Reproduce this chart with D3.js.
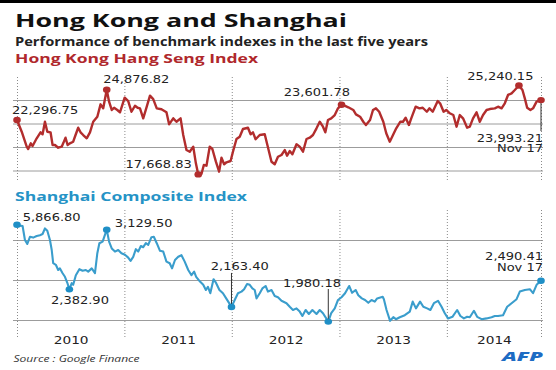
<!DOCTYPE html>
<html><head><meta charset="utf-8">
<script src="https://cdn.jsdelivr.net/npm/d3@7"></script>
<style>html,body{margin:0;padding:0;background:#fff;} svg{display:block;}</style>
</head><body><svg id="c" width="556" height="370"></svg>
<script>
// ---------- DATA ----------
const hkDates = ["2010-01-01","2010-01-17","2010-02-03","2010-02-08","2010-02-17","2010-02-23","2010-03-09","2010-03-22","2010-03-29","2010-04-06","2010-04-14","2010-04-25","2010-05-02","2010-05-10","2010-05-21","2010-06-02","2010-06-07","2010-06-15","2010-06-22","2010-06-30","2010-07-11","2010-07-19","2010-07-28","2010-08-05","2010-08-14","2010-08-26","2010-09-06","2010-09-17","2010-10-01","2010-10-12","2010-10-21","2010-11-02","2010-11-10","2010-11-19","2010-11-27","2010-12-08","2010-12-17","2011-01-02","2011-01-14","2011-01-25","2011-02-06","2011-02-15","2011-02-23","2011-03-06","2011-03-18","2011-03-29","2011-04-09","2011-04-21","2011-05-07","2011-05-24","2011-06-02","2011-06-16","2011-06-27","2011-07-11","2011-07-20","2011-07-31","2011-08-11","2011-08-23","2011-09-01","2011-09-09","2011-09-20","2011-09-28","2011-10-07","2011-10-18","2011-10-27","2011-11-08","2011-11-19","2011-11-27","2011-12-06","2011-12-14","2011-12-28","2012-01-05","2012-01-17","2012-01-28","2012-02-08","2012-02-25","2012-03-05","2012-03-13","2012-03-22","2012-04-05","2012-04-22","2012-05-01","2012-05-15","2012-05-26","2012-06-06","2012-06-18","2012-06-29","2012-07-07","2012-07-16","2012-07-25","2012-08-08","2012-08-19","2012-08-30","2012-09-11","2012-09-22","2012-10-03","2012-10-15","2012-10-26","2012-11-06","2012-11-14","2012-11-23","2012-12-04","2012-12-16","2012-12-27","2013-01-08","2013-01-20","2013-01-31","2013-02-17","2013-02-26","2013-03-12","2013-03-23","2013-04-01","2013-04-15","2013-04-25","2013-05-05","2013-05-16","2013-05-30","2013-06-09","2013-06-21","2013-07-02","2013-07-13","2013-07-27","2013-08-05","2013-08-14","2013-08-25","2013-09-02","2013-09-17","2013-09-30","2013-10-11","2013-10-25","2013-11-03","2013-11-14","2013-12-01","2013-12-09","2013-12-21","2013-12-30","2014-01-11","2014-01-23","2014-02-03","2014-02-14","2014-02-25","2014-03-11","2014-03-20","2014-03-31","2014-04-12","2014-04-23","2014-05-04","2014-05-16","2014-05-27","2014-06-13","2014-06-24","2014-07-06","2014-07-17","2014-07-28","2014-08-09","2014-08-20","2014-09-03","2014-09-15","2014-09-23","2014-10-01","2014-10-12","2014-10-21","2014-11-02","2014-11-17"];
const hkValues = [22296.75,21300,20030,19830,20310,20080,20740,21250,21080,22150,21300,21250,20170,20170,19940,20030,20310,20790,20170,20310,20450,21020,21640,21250,21020,20740,21250,22150,22580,23630,23290,24876.82,23860,23150,23340,23150,22950,24200,23910,23000,23510,23340,23290,22440,23430,24370,24080,23290,23210,22950,21930,22440,22150,22440,21020,19740,19600,20030,18610,17668.83,17700,18470,18410,20030,19830,18750,17900,19090,18530,18700,18810,19600,20680,20880,21530,21640,21080,21250,20660,21020,21080,20170,18750,18530,19170,19320,19740,19260,19660,19380,20230,20030,19600,20680,20790,21020,21590,22150,21730,21250,22300,22440,22720,23290,23601.78,23500,23380,23150,22780,22580,22150,21870,22300,23150,23290,23000,22150,21170,20450,21020,21590,22150,22150,22490,21870,22440,23430,23290,23340,23000,23290,23000,23910,23720,23000,23150,22870,22720,21730,22720,22440,21640,21730,22440,22950,22150,22720,23150,23230,23290,23430,23290,23720,24430,24570,24850,25240.15,24850,24140,23340,23150,23290,23860,23993.21];

const shDates = ["2010-01-01","2010-01-11","2010-01-20","2010-01-28","2010-02-05","2010-02-14","2010-02-25","2010-03-09","2010-03-20","2010-03-29","2010-04-06","2010-04-14","2010-04-23","2010-04-29","2010-05-04","2010-05-13","2010-05-21","2010-05-27","2010-06-05","2010-06-13","2010-06-21","2010-06-28","2010-07-06","2010-07-11","2010-07-20","2010-08-01","2010-08-12","2010-08-23","2010-08-31","2010-09-12","2010-09-23","2010-10-01","2010-10-08","2010-10-19","2010-11-02","2010-11-10","2010-11-19","2010-11-30","2010-12-11","2010-12-22","2011-01-03","2011-01-14","2011-01-22","2011-01-31","2011-02-09","2011-02-17","2011-02-26","2011-03-06","2011-03-15","2011-03-23","2011-04-03","2011-04-11","2011-04-21","2011-05-02","2011-05-13","2011-05-24","2011-06-04","2011-06-12","2011-06-22","2011-07-03","2011-07-14","2011-07-25","2011-08-06","2011-08-17","2011-08-26","2011-09-02","2011-09-15","2011-09-26","2011-10-05","2011-10-12","2011-10-20","2011-10-31","2011-11-09","2011-11-20","2011-12-02","2011-12-13","2011-12-31","2012-01-11","2012-01-22","2012-02-03","2012-02-12","2012-02-22","2012-03-02","2012-03-11","2012-03-19","2012-03-25","2012-04-05","2012-04-14","2012-04-25","2012-05-03","2012-05-15","2012-05-26","2012-06-06","2012-06-18","2012-07-05","2012-07-16","2012-07-27","2012-08-08","2012-08-19","2012-08-28","2012-09-08","2012-09-19","2012-10-01","2012-10-15","2012-10-26","2012-11-06","2012-11-24","2012-12-04","2012-12-16","2012-12-27","2013-01-08","2013-01-20","2013-02-03","2013-02-13","2013-02-25","2013-03-06","2013-03-18","2013-03-29","2013-04-09","2013-04-20","2013-05-01","2013-05-09","2013-05-28","2013-06-01","2013-06-10","2013-06-22","2013-07-03","2013-07-12","2013-07-25","2013-08-11","2013-08-28","2013-09-07","2013-09-18","2013-10-02","2013-10-13","2013-10-26","2013-11-06","2013-11-18","2013-12-02","2013-12-14","2013-12-25","2014-01-05","2014-01-20","2014-02-05","2014-02-16","2014-02-28","2014-03-11","2014-03-20","2014-04-03","2014-04-14","2014-04-29","2014-05-16","2014-06-02","2014-06-13","2014-06-24","2014-07-11","2014-07-25","2014-08-09","2014-08-26","2014-09-06","2014-09-23","2014-10-10","2014-10-21","2014-11-02","2014-11-17"];
const shValues = [3190,3180,3175,3000,2950,3040,3030,3050,3060,3075,3145,3115,3000,2875,2710,2690,2625,2645,2585,2540,2465,2382.90,2460,2440,2560,2635,2615,2625,2605,2645,2585,2835,2960,2980,3129.50,2980,2895,2855,2875,2835,2815,2780,2740,2790,2885,2855,2925,2910,2960,2940,3035,3040,2960,2865,2855,2730,2710,2645,2750,2790,2810,2730,2625,2560,2605,2540,2480,2440,2375,2415,2335,2510,2460,2375,2335,2270,2163.40,2250,2335,2355,2385,2450,2440,2395,2375,2270,2335,2395,2425,2355,2375,2300,2285,2240,2210,2165,2125,2145,2105,2050,2125,2075,2125,2075,2125,2085,1980.18,2085,2145,2250,2285,2335,2425,2340,2375,2310,2270,2250,2215,2250,2230,2270,2290,2260,2125,1990,2035,2010,2035,2060,2105,2230,2145,2230,2165,2145,2125,2210,2240,2165,2085,2020,2040,2125,2050,2020,2040,2035,2115,2040,2010,2020,2035,2050,2050,2060,2165,2210,2260,2355,2375,2385,2335,2440,2490.41];

const hkGrid = [18000, 20000, 22000, 24000];
const shGrid = [2000, 2500, 3000];
const yearBounds = ["2010-01-01","2011-01-01","2012-01-01","2013-01-01","2014-01-01","2014-11-17"];
const yearLabels = ["2010","2011","2012","2013","2014"];

const hkNoteDates  = ["2010-01-01","2010-11-02","2011-09-09","2013-01-08","2014-09-03","2014-11-17"];
const hkNoteLabels = ["22,296.75","24,876.82","17,668.83","23,601.78","25,240.15","23,993.21"];
const shNoteDates  = ["2010-01-01","2010-11-02","2010-06-28","2011-12-31","2012-11-24","2014-11-17"];
const shNoteLabels = ["5,866.80","3,129.50","2,382.90","2,163.40","1,980.18","2,490.41"];
const endDateLabel = "Nov 17";

const titleText = "Hong Kong and Shanghai";
const subtitleText = "Performance of benchmark indexes in the last five years";
const hkTitle = "Hong Kong Hang Seng Index";
const shTitle = "Shanghai Composite Index";
const sourceText = "Source : Google Finance";
const logoText = "AFP";

// ---------- DRAW ----------
const parse = d3.timeParse("%Y-%m-%d");
const svg = d3.select("#c");
const SX = 1.3; // horizontal text stretch of the original artwork

function stretch(sel, k) {
  sel.each(function() {
    const w = this.getComputedTextLength();
    d3.select(this).attr("textLength", w * k).attr("lengthAdjust", "spacingAndGlyphs");
  });
  return sel;
}
function fitWidth(sel, w) {
  return sel.attr("textLength", w).attr("lengthAdjust", "spacingAndGlyphs");
}

svg.append("rect").attr("x",0).attr("y",0).attr("width",556).attr("height",3).attr("fill","#000");

const x = d3.scaleTime().domain([parse("2010-01-01"), parse("2014-11-17")]).range([17, 541]);
const yHK = d3.scaleLinear().domain([18000, 24000]).range([170.5, 100]);
const ySH = d3.scaleLinear().domain([2000, 3000]).range([320, 240]);

// headers
const hdr = (txt, xx, yy, size, weight, color, w, style) => fitWidth(
  svg.append("text").attr("x", xx).attr("y", yy).text(txt)
    .attr("font-family", "'Open Sans', 'DejaVu Sans', sans-serif")
    .attr("font-size", size).attr("font-weight", weight)
    .attr("font-style", style || "normal").attr("fill", color), w);
hdr(titleText, 15, 27, 18.5, 700, "#111", 332);
hdr(subtitleText, 15, 45.5, 12, 700, "#222", 413);
hdr(hkTitle, 15, 62.7, 13, 700, "#b0282c", 243);
hdr(shTitle, 15, 201, 13, 700, "#2593c6", 232);
hdr(sourceText, 13.5, 361.5, 9, 400, "#333", 126, "italic");
hdr(logoText, 502, 361, 12, 800, "#1d6cc4", 41, "italic");

function panel(yScale, grid, y0, y1, dates, values, color, dotColor, lw, noteDates, noteLabels, layout) {
  // horizontal gridlines
  const gy = svg.append("g").attr("transform", "translate(13,0)")
    .call(d3.axisRight(yScale).tickValues(grid).tickSize(530).tickFormat(""));
  gy.select(".domain").remove();
  gy.selectAll("line").attr("stroke", "#9c9c9c").attr("stroke-width", 1);
  // vertical dotted year lines
  const gx = svg.append("g").attr("transform", `translate(0,${y0})`)
    .call(d3.axisBottom(x).tickValues(yearBounds.map(parse)).tickSize(y1 - y0).tickFormat(""));
  gx.select(".domain").remove();
  gx.selectAll("line").attr("stroke", "#8a8a8a").attr("stroke-width", 1).attr("stroke-dasharray", "1,2");

  const data = dates.map((d, i) => ({date: parse(d), value: values[i]}));
  const line = d3.line().x(d => x(d.date)).y(d => yScale(d.value));
  svg.append("path").datum(data).attr("d", line).attr("fill", "none")
    .attr("stroke", color).attr("stroke-width", lw).attr("stroke-linejoin", "round").attr("stroke-linecap", "round");

  noteDates.forEach((nd, i) => {
    const p = data.find(d => d3.timeFormat("%Y-%m-%d")(d.date) === nd);
    const px = x(p.date), py = yScale(p.value);
    const L = layout[i];
    if (L.lead) {
      svg.append("line").attr("x1", px).attr("x2", px).attr("y1", py).attr("y2", py + L.lead)
        .attr("stroke", "#333").attr("stroke-width", 1);
    }
    svg.append("ellipse").attr("cx", px).attr("cy", py).attr("rx", 3.8).attr("ry", 3.2).attr("fill", dotColor);
    const t = svg.append("text").attr("x", px + L.dx).attr("y", py + L.dy)
      .attr("text-anchor", L.anchor).attr("font-family", "'DejaVu Sans', sans-serif")
      .attr("font-size", 10).attr("fill", "#222").text(noteLabels[i]);
    stretch(t, SX);
    if (L.date !== undefined) {
      const t2 = svg.append("text").attr("x", px + L.dx).attr("y", py + L.date)
        .attr("text-anchor", L.anchor).attr("font-family", "'DejaVu Sans', sans-serif")
        .attr("font-size", 10).attr("fill", "#222").text(endDateLabel);
      stretch(t2, SX);
    }
  });
}

panel(yHK, hkGrid, 77, 182, hkDates, hkValues, "#b22d2d", "#b22d2d", 2.4, hkNoteDates, hkNoteLabels, [
  {dx: -5, dy: -6.5, anchor: "start"},
  {dx: -3.5, dy: -6.5, anchor: "start"},
  {dx: -6.5, dy: -6.5, anchor: "end"},
  {dx: 8.5, dy: -8.5, anchor: "end"},
  {dx: 14.5, dy: -5.5, anchor: "end"},
  {dx: 2, dy: 41.5, anchor: "end", lead: 31, date: 51.5}
]);
panel(ySH, shGrid, 210, 337, shDates, shValues, "#3a9dcc", "#1f8fc6", 2.1, shNoteDates, shNoteLabels, [
  {dx: 5.7, dy: -4, anchor: "start"},
  {dx: 8, dy: -3, anchor: "start"},
  {dx: 10.6, dy: 15, anchor: "middle"},
  {dx: 8.3, dy: -37, anchor: "middle", lead: -34},
  {dx: 12.7, dy: -35, anchor: "end", lead: -32.6},
  {dx: 2, dy: -20.8, anchor: "end", date: -9.8}
]);

// year labels
const mids = yearLabels.map((l, i) => new Date((parse(yearBounds[i]).getTime() + parse(yearBounds[i + 1]).getTime()) / 2));
const gyr = svg.append("g").attr("transform", "translate(0,344)")
  .call(d3.axisBottom(x).tickValues(mids).tickSize(0).tickPadding(0).tickFormat((d, i) => yearLabels[i]));
gyr.select(".domain").remove();
gyr.selectAll("text").attr("y", 0).attr("dy", 0).attr("font-family", "'DejaVu Sans', sans-serif")
  .attr("font-size", 10.5).attr("fill", "#222");
stretch(gyr.selectAll("text"), SX);
</script>
</body></html>
